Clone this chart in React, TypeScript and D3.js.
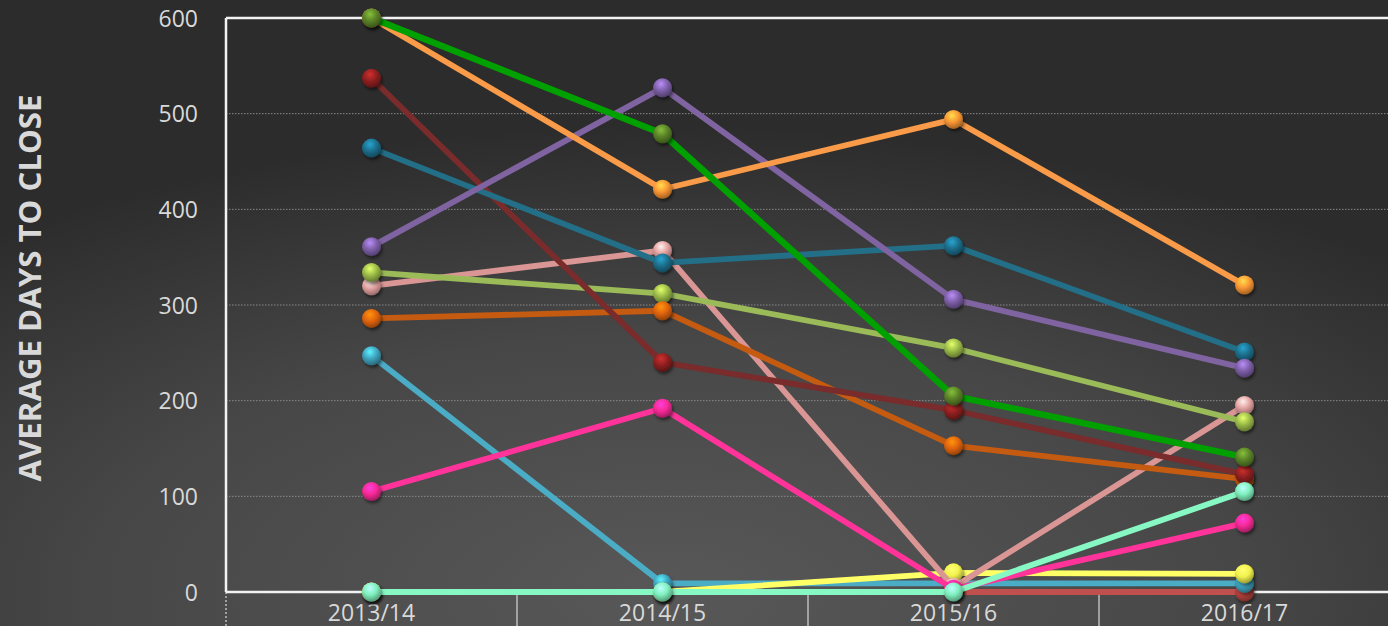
import React from "react";
import { scaleBand, scaleLinear, line, color } from "d3";

// categories on the x axis
const years = ["2013/14", "2014/15", "2015/16", "2016/17"];
const yTicks = [0, 100, 200, 300, 400, 500, 600];

// one array per series (days)
const redSeries = [0, 0, 0, 0];
const blueSeries = [247, 9, 9, 9];
const yellowSeries = [0, 0, 20, 19];
const salmonSeries = [320, 357, 5, 195];
const limeSeries = [334, 312, 255, 178];
const rustSeries = [286, 294, 153, 118];
const maroonSeries = [537, 240, 190, 123];
const tealSeries = [464, 344, 362, 251];
const purpleSeries = [361, 527, 306, 234];
const orangeSeries = [600, 421, 494, 321];
const magentaSeries = [105, 192, 3, 72];
const mintSeries = [0, 0, 0, 105];
const greenSeries = [600, 479, 205, 141];

// drawing order: later entries sit on top
const series = [
  { key: "red", values: redSeries, stroke: "#c0504d", dot: "#b94440" },
  { key: "blue", values: blueSeries, stroke: "#4bacc6", dot: "#3fa4c0" },
  { key: "yellow", values: yellowSeries, stroke: "#ffff66", dot: "#f2f24e" },
  { key: "salmon", values: salmonSeries, stroke: "#d99694", dot: "#e3a2a0" },
  { key: "lime", values: limeSeries, stroke: "#9bbb59", dot: "#9bbb48" },
  { key: "rust", values: rustSeries, stroke: "#c55a11", dot: "#e0640a" },
  { key: "maroon", values: maroonSeries, stroke: "#7a2b2b", dot: "#8e2020" },
  { key: "teal", values: tealSeries, stroke: "#226f87", dot: "#1c6f8c" },
  { key: "purple", values: purpleSeries, stroke: "#8064a2", dot: "#7d5fa8" },
  { key: "orange", values: orangeSeries, stroke: "#f99b48", dot: "#f99634" },
  { key: "magenta", values: magentaSeries, stroke: "#ff3399", dot: "#f52a95" },
  { key: "mint", values: mintSeries, stroke: "#87f7c3", dot: "#7fefbd" },
  { key: "green", values: greenSeries, stroke: "#00a000", dot: "#5a8228" },
];

const W = 1388;
const H = 626;

const App = () => {
  const x = scaleBand<string>().domain(years).range([226, 1390]).padding(0);
  const y = scaleLinear().domain([0, 600]).range([592, 18]);
  const cx = (d: string) => (x(d) as number) + x.bandwidth() / 2;

  const path = line<number>()
    .x((_, i) => cx(years[i]))
    .y((v) => y(v));

  const grey = "#d9d9d9";

  return (
    <svg
      width={W}
      height={H}
      style={{ position: "absolute", left: 0, top: 0, display: "block" }}
    >
      <defs>
        <radialGradient id="bg" cx="48%" cy="95%" r="75%">
          <stop offset="0%" stopColor="#585858" />
          <stop offset="55%" stopColor="#474747" />
          <stop offset="100%" stopColor="#2c2c2c" />
        </radialGradient>
        {series.map((s) => {
          const c = color(s.dot)!;
          return (
            <radialGradient key={s.key} id={`ball-${s.key}`} cx="42%" cy="30%" r="72%">
              <stop offset="0%" stopColor={c.brighter(1.1).formatHex()} />
              <stop offset="50%" stopColor={s.dot} />
              <stop offset="100%" stopColor={c.darker(1.3).formatHex()} />
            </radialGradient>
          );
        })}
        <filter id="shadow" x="-50%" y="-50%" width="200%" height="200%">
          <feDropShadow dx="1.5" dy="2.5" stdDeviation="1.8" floodColor="#000" floodOpacity="0.5" />
        </filter>
      </defs>

      <rect x={0} y={0} width={W} height={H} fill="url(#bg)" />

      {/* dotted gridlines */}
      {yTicks
        .filter((t) => t > 0 && t < 600)
        .map((t) => (
          <line
            key={t}
            x1={226}
            x2={W}
            y1={y(t)}
            y2={y(t)}
            stroke="#8a8a8a"
            strokeWidth={1}
            strokeDasharray="1.5,1.5"
          />
        ))}

      {/* tick dividers below the x axis */}
      {years.map((d) => (
        <line
          key={d}
          x1={x(d) as number}
          x2={x(d) as number}
          y1={592}
          y2={H}
          stroke="#bdbdbd"
          strokeWidth={1.5}
          strokeDasharray={d === years[0] ? "2,2" : undefined}
        />
      ))}

      {/* frame */}
      <line x1={226} x2={W} y1={y(600)} y2={y(600)} stroke="#f2f2f2" strokeWidth={2.5} />
      <line x1={226} x2={W} y1={y(0)} y2={y(0)} stroke="#f2f2f2" strokeWidth={2.5} />
      <line x1={226} x2={226} y1={y(600)} y2={y(0)} stroke="#f2f2f2" strokeWidth={2.5} />

      {/* y tick labels */}
      {yTicks.map((t) => (
        <text
          key={t}
          x={198}
          y={y(t) + 8.5}
          textAnchor="end"
          fill={grey}
          fontFamily="'Open Sans', sans-serif"
          fontSize={23}
        >
          {t}
        </text>
      ))}

      {/* x tick labels */}
      {years.map((d) => (
        <text
          key={d}
          x={cx(d)}
          y={621}
          textAnchor="middle"
          fill={grey}
          fontFamily="'Open Sans', sans-serif"
          fontSize={23}
        >
          {d}
        </text>
      ))}

      {/* y axis title */}
      <text
        transform="translate(41,288) rotate(-90)"
        textAnchor="middle"
        fill={grey}
        fontFamily="'Open Sans', sans-serif"
        fontWeight="bold"
        fontSize={31}
        textLength={387}
        lengthAdjust="spacingAndGlyphs"
      >
        AVERAGE DAYS TO CLOSE
      </text>

      {/* series */}
      {series.map((s) => (
        <g key={s.key}>
          <path
            d={path(s.values) as string}
            fill="none"
            stroke={s.stroke}
            strokeWidth={s.key === "green" ? 6.5 : 5.8}
            strokeLinejoin="round"
          />
          {s.values.map((v, i) => (
            <circle
              key={i}
              cx={cx(years[i])}
              cy={y(v)}
              r={9.5}
              fill={`url(#ball-${s.key})`}
              filter="url(#shadow)"
            />
          ))}
        </g>
      ))}
    </svg>
  );
};

export default App;
